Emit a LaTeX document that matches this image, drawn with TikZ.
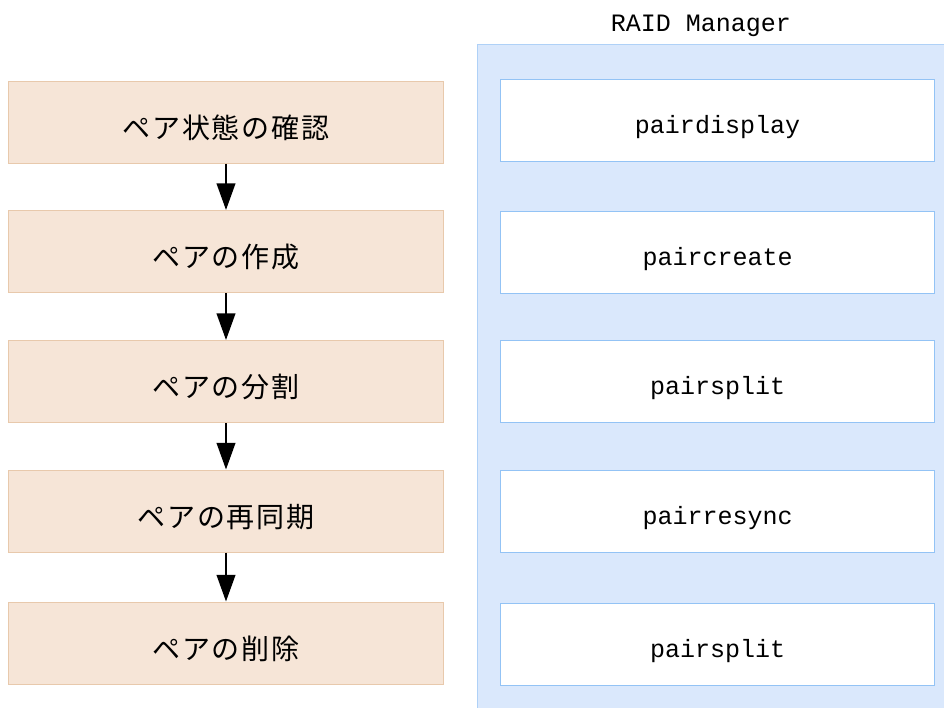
\documentclass[tikz,border=0pt]{standalone}
\usepackage{fontspec}
\setmonofont{Liberation Mono}
\newfontfamily\jpfont[LetterSpace=6]{Noto Sans CJK JP}
\usetikzlibrary{positioning,arrows.meta}
\definecolor{stepFill}{HTML}{F6E5D7}
\definecolor{stepLine}{HTML}{E8C9AC}
\definecolor{panelFill}{HTML}{DAE8FC}
\definecolor{panelLine}{HTML}{AFD1F7}
\definecolor{cmdLine}{HTML}{93C3F5}
\tikzset{
  stepBox/.style={rectangle, fill=stepFill, draw=stepLine, line width=0.75pt,
    minimum width=326pt, minimum height=61.5pt, text height=24.5pt, text depth=0pt,
    font=\jpfont\fontsize{21pt}{24pt}\selectfont},
  cmdBox/.style={rectangle, fill=white, draw=cmdLine, line width=0.75pt,
    minimum width=325pt, minimum height=61.5pt, text height=22pt, text depth=2pt,
    font=\ttfamily\fontsize{18.75pt}{22pt}\selectfont},
  flowArrow/.style={-{Triangle[length=20pt,width=14pt]}, line width=1.5pt}
}
\begin{document}
\begin{tikzpicture}[x=0.75pt, y=-0.75pt]
  \useasboundingbox (0,0) rectangle (944,707);
  % RAID Manager panel
  \path[fill=panelFill, draw=panelLine, line width=0.75pt] (477,44) rectangle (950,712);
  \node[font=\ttfamily\fontsize{18.75pt}{22pt}\selectfont] (title) at (701,25.5) {RAID Manager};
  % steps
  \node[stepBox] (status) at (226,122) {ペア状態の確認};
  \node[stepBox] (create) at (226,251.5) {ペアの作成};
  \node[stepBox] (split) at (226,381.5) {ペアの分割};
  \node[stepBox] (resync) at (226,511) {ペアの再同期};
  \node[stepBox] (delete) at (226,643) {ペアの削除};
  % commands
  \node[cmdBox] (display) at (717.5,120) {pairdisplay};
  \node[cmdBox] (pcreate) at (717.5,252.5) {paircreate};
  \node[cmdBox] (psplit) at (717.5,381.5) {pairsplit};
  \node[cmdBox] (presync) at (717.5,511) {pairresync};
  \node[cmdBox] (pdelete) at (717.5,644) {pairsplit};
  % flow
  \draw[flowArrow] (status) -- (create);
  \draw[flowArrow] (create) -- (split);
  \draw[flowArrow] (split) -- (resync);
  \draw[flowArrow] (resync) -- (delete);
\end{tikzpicture}
\end{document}
